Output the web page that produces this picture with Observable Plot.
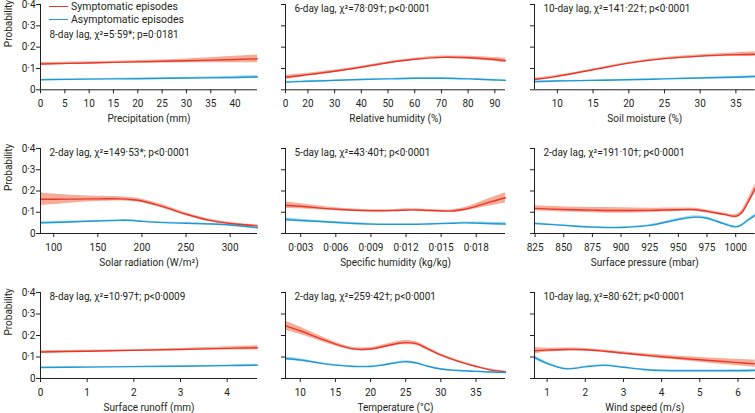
<!DOCTYPE html>
<html>
<head>
<meta charset="utf-8">
<script src="https://cdn.jsdelivr.net/npm/d3@7"></script>
<script src="https://cdn.jsdelivr.net/npm/@observablehq/plot@0.6"></script>
<style>
  body { margin: 0; background: #fff; }
  #chart { position: relative; width: 755px; height: 413px; font-family: Roboto, sans-serif; color: #231f20; }
  #chart svg { position: absolute; overflow: visible; }
  .legend { position: absolute; left: 49px; top: 0px; font-size: 10.5px; line-height: 13px; }
  .legend div { display: flex; align-items: center; height: 13px; }
  .legend span.sw { display: inline-block; width: 19px; height: 0; border-top: 1.6px solid; margin-right: 3px; }
</style>
</head>
<body>
<div id="chart"></div>
<script>
// ---------- data ----------
const seriesNames = ["Symptomatic episodes", "Asymptomatic episodes"];
const yTicks = [0, 0.1, 0.2, 0.3, 0.4];

// Precipitation
const precipX = [0, 10, 20, 30, 40, 44.6];
const precipSym = [0.121, 0.126, 0.131, 0.136, 0.142, 0.145];
const precipSymCI = [0.006, 0.005, 0.006, 0.009, 0.015, 0.018];
const precipAsym = [0.047, 0.050, 0.052, 0.055, 0.058, 0.060];
const precipAsymCI = [0.003, 0.002, 0.003, 0.004, 0.006, 0.007];
const precipTicks = [0, 5, 10, 15, 20, 25, 30, 35, 40];

// Relative humidity
const rhX = [11.6, 20, 30, 40, 50, 60, 70, 80, 90, 94];
const rhSym = [0.059, 0.071, 0.087, 0.106, 0.127, 0.143, 0.152, 0.150, 0.142, 0.137];
const rhSymCI = [0.010, 0.007, 0.006, 0.005, 0.005, 0.005, 0.006, 0.007, 0.009, 0.011];
const rhAsym = [0.036, 0.040, 0.044, 0.048, 0.051, 0.054, 0.054, 0.051, 0.046, 0.044];
const rhAsymCI = [0.004, 0.003, 0.002, 0.002, 0.002, 0.002, 0.002, 0.002, 0.003, 0.004];
const rhTicks = [11.6, 20, 30, 40, 50, 60, 70, 80, 90];
const rhTickLabels = ["0", "20", "30", "40", "50", "60", "70", "80", "90"];

// Soil moisture
const soilX = [6.8, 10, 15, 20, 25, 30, 35, 37.7];
const soilSym = [0.048, 0.063, 0.094, 0.125, 0.146, 0.158, 0.165, 0.167];
const soilSymCI = [0.006, 0.005, 0.004, 0.004, 0.005, 0.006, 0.009, 0.011];
const soilAsym = [0.038, 0.041, 0.044, 0.047, 0.051, 0.055, 0.059, 0.062];
const soilAsymCI = [0.003, 0.002, 0.002, 0.002, 0.002, 0.003, 0.004, 0.005];
const soilTicks = [10, 15, 20, 25, 30, 35];

// Solar radiation
const solarX = [85, 100, 125, 150, 175, 190, 200, 225, 250, 275, 300, 331];
const solarSym = [0.161, 0.161, 0.162, 0.163, 0.163, 0.159, 0.153, 0.125, 0.091, 0.063, 0.047, 0.036];
const solarSymCI = [0.030, 0.025, 0.017, 0.012, 0.010, 0.009, 0.008, 0.008, 0.007, 0.006, 0.005, 0.005];
const solarAsym = [0.050, 0.052, 0.055, 0.059, 0.062, 0.061, 0.057, 0.051, 0.048, 0.045, 0.040, 0.027];
const solarAsymCI = [0.007, 0.006, 0.004, 0.003, 0.003, 0.003, 0.003, 0.003, 0.003, 0.003, 0.003, 0.004];
const solarTicks = [100, 150, 200, 250, 300];

// Specific humidity
const shX = [0.0017, 0.003, 0.006, 0.009, 0.011, 0.0125, 0.014, 0.016, 0.017, 0.018, 0.019, 0.0205];
const shSym = [0.133, 0.128, 0.114, 0.107, 0.108, 0.111, 0.108, 0.106, 0.114, 0.128, 0.145, 0.168];
const shSymCI = [0.015, 0.012, 0.007, 0.005, 0.005, 0.005, 0.005, 0.006, 0.008, 0.012, 0.017, 0.024];
const shAsym = [0.066, 0.061, 0.052, 0.044, 0.043, 0.043, 0.045, 0.048, 0.050, 0.049, 0.047, 0.045];
const shAsymCI = [0.008, 0.006, 0.004, 0.003, 0.003, 0.003, 0.003, 0.003, 0.004, 0.005, 0.006, 0.008];
const shTicks = [0.003, 0.006, 0.009, 0.012, 0.015, 0.018];

// Surface pressure
const presX = [824.5, 850, 875, 900, 925, 950, 965, 975, 990, 1000, 1005, 1010, 1017];
const presSym = [0.118, 0.113, 0.110, 0.108, 0.109, 0.112, 0.112, 0.104, 0.090, 0.081, 0.097, 0.140, 0.213];
const presSymCI = [0.012, 0.012, 0.012, 0.013, 0.010, 0.008, 0.007, 0.007, 0.007, 0.008, 0.010, 0.014, 0.020];
const presAsym = [0.047, 0.038, 0.030, 0.028, 0.038, 0.066, 0.077, 0.072, 0.045, 0.031, 0.040, 0.060, 0.086];
const presAsymCI = [0.004, 0.003, 0.003, 0.003, 0.004, 0.006, 0.007, 0.006, 0.005, 0.004, 0.004, 0.005, 0.007];
const presTicks = [825, 850, 875, 900, 925, 950, 975, 1000];

// Surface runoff
const runoffX = [0, 1, 2, 3, 4, 4.65];
const runoffSym = [0.123, 0.127, 0.131, 0.135, 0.140, 0.143];
const runoffSymCI = [0.006, 0.004, 0.004, 0.005, 0.008, 0.010];
const runoffAsym = [0.051, 0.053, 0.055, 0.057, 0.060, 0.062];
const runoffAsymCI = [0.003, 0.002, 0.002, 0.002, 0.003, 0.004];
const runoffTicks = [0, 1, 2, 3, 4];

// Temperature
const tempX = [7.9, 10, 12.5, 15, 17.5, 20, 22, 24, 25, 26.5, 28, 30, 32.5, 35, 37, 39.2];
const tempSym = [0.245, 0.222, 0.190, 0.160, 0.138, 0.137, 0.150, 0.164, 0.167, 0.162, 0.140, 0.109, 0.080, 0.056, 0.040, 0.031];
const tempSymCI = [0.022, 0.017, 0.012, 0.009, 0.007, 0.007, 0.008, 0.009, 0.010, 0.009, 0.008, 0.006, 0.005, 0.004, 0.004, 0.004];
const tempAsym = [0.093, 0.086, 0.073, 0.062, 0.056, 0.056, 0.064, 0.075, 0.078, 0.072, 0.058, 0.044, 0.037, 0.033, 0.030, 0.028];
const tempAsymCI = [0.008, 0.006, 0.004, 0.003, 0.003, 0.003, 0.003, 0.004, 0.004, 0.004, 0.003, 0.003, 0.002, 0.002, 0.002, 0.003];
const tempTicks = [10, 15, 20, 25, 30, 35];

// Wind speed
const windX = [0.67, 1, 1.5, 2, 2.5, 3, 3.5, 4, 5, 6, 6.45];
const windSym = [0.129, 0.132, 0.135, 0.134, 0.127, 0.118, 0.109, 0.101, 0.087, 0.074, 0.068];
const windSymCI = [0.015, 0.009, 0.007, 0.006, 0.006, 0.006, 0.007, 0.008, 0.011, 0.015, 0.017];
const windAsym = [0.098, 0.070, 0.045, 0.054, 0.061, 0.052, 0.042, 0.037, 0.036, 0.036, 0.037];
const windAsymCI = [0.010, 0.006, 0.003, 0.003, 0.004, 0.003, 0.003, 0.003, 0.004, 0.005, 0.006];
const windTicks = [1, 2, 3, 4, 5, 6];

const xLabels = ["Precipitation (mm)", "Relative humidity (%)", "Soil moisture (%)",
  "Solar radiation (W/m²)", "Specific humidity (kg/kg)", "Surface pressure (mbar)",
  "Surface runoff (mm)", "Temperature (°C)", "Wind speed (m/s)"];
const annotations = ["8-day lag, χ²=5·59*; p=0·0181", "6-day lag, χ²=78·09†; p<0·0001",
  "10-day lag, χ²=141·22†; p<0·0001", "2-day lag, χ²=149·53*; p<0·0001",
  "5-day lag, χ²=43·40†; p<0·0001", "2-day lag, χ²=191·10†; p<0·0001",
  "8-day lag, χ²=10·97†; p<0·0009", "2-day lag, χ²=259·42†; p<0·0001",
  "10-day lag, χ²=80·62†; p<0·0001"];

// ---------- drawing ----------
const RED = "#e8372c", RED_BAND = "#f6ad98";
const BLUE = "#1d9ad3", BLUE_BAND = "#a7d9ef";
const dot = s => s.replace(".", "·");
const fmt = d => d === 0 ? "0" : dot(String(+d.toFixed(6)));

const panels = [
  {X: precipX, s: precipSym, sc: precipSymCI, a: precipAsym, ac: precipAsymCI, ticks: precipTicks},
  {X: rhX, s: rhSym, sc: rhSymCI, a: rhAsym, ac: rhAsymCI, ticks: rhTicks, labels: rhTickLabels},
  {X: soilX, s: soilSym, sc: soilSymCI, a: soilAsym, ac: soilAsymCI, ticks: soilTicks},
  {X: solarX, s: solarSym, sc: solarSymCI, a: solarAsym, ac: solarAsymCI, ticks: solarTicks},
  {X: shX, s: shSym, sc: shSymCI, a: shAsym, ac: shAsymCI, ticks: shTicks},
  {X: presX, s: presSym, sc: presSymCI, a: presAsym, ac: presAsymCI, ticks: presTicks},
  {X: runoffX, s: runoffSym, sc: runoffSymCI, a: runoffAsym, ac: runoffAsymCI, ticks: runoffTicks},
  {X: tempX, s: tempSym, sc: tempSymCI, a: tempAsym, ac: tempAsymCI, ticks: tempTicks},
  {X: windX, s: windSym, sc: windSymCI, a: windAsym, ac: windAsymCI, ticks: windTicks}
];

// layout: frame left / right per column, frame top / bottom per row
const colLeft = [40, 285, 534.3], colRight = [257, 505, 755];
const rowTop = [4, 148.3, 291.7], rowBottom = [89.3, 233.3, 377.7];
const ML = 40, MB = 36, MT = 4;

const chart = document.getElementById("chart");
panels.forEach((p, i) => {
  const col = i % 3, row = Math.floor(i / 3);
  const rows = (Y, C) => p.X.map((x, k) => ({x, y: Y[k], lo: Y[k] - C[k], hi: Y[k] + C[k]}));
  const sym = rows(p.s, p.sc), asym = rows(p.a, p.ac);
  const xDomain = [p.X[0], p.X[p.X.length - 1]];
  const curve = "catmull-rom";
  const marks = [
    Plot.areaY(sym, {x: "x", y1: "lo", y2: "hi", fill: RED_BAND, curve}),
    Plot.areaY(asym, {x: "x", y1: "lo", y2: "hi", fill: BLUE_BAND, curve}),
    Plot.line(sym, {x: "x", y: "y", stroke: RED, strokeWidth: 1.4, curve}),
    Plot.line(asym, {x: "x", y: "y", stroke: BLUE, strokeWidth: 1.4, curve}),
    Plot.ruleX([xDomain[0]], {stroke: "#231f20", strokeWidth: 1}),
    Plot.ruleY([0], {stroke: "#231f20", strokeWidth: 1}),
    Plot.text([annotations[i]], {frameAnchor: "top-left", dx: 9, dy: i === 0 ? 30 : 4.5, lineAnchor: "middle", textAnchor: "start", fontSize: 10}),
    Plot.text([xLabels[i]], {frameAnchor: "bottom", dy: 29, lineAnchor: "middle", fontSize: 10})
  ];
  if (col === 0) marks.push(Plot.text(["Probability"], {frameAnchor: "left", dx: -32, rotate: -90, lineAnchor: "middle", fontSize: 10}));
  const width = colRight[col] - (colLeft[col] - ML);
  const height = (rowBottom[row] - rowTop[row]) + MT + MB;
  const svg = Plot.plot({
    width, height,
    marginLeft: ML, marginRight: 0, marginTop: MT, marginBottom: MB,
    style: {fontFamily: "Roboto, sans-serif", fontSize: "10px", color: "#231f20", background: "transparent", overflow: "visible"},
    x: {domain: xDomain, ticks: p.ticks, tickSize: 4, tickPadding: 6, label: null,
        tickFormat: p.labels ? (d => p.labels[p.ticks.indexOf(d)]) : fmt},
    y: {domain: [0, 0.4], ticks: yTicks, tickSize: 4, tickPadding: 1, label: null,
        tickFormat: col === 0 ? fmt : () => ""},
    marks
  });
  svg.style.left = (colLeft[col] - ML) + "px";
  svg.style.top = (rowTop[row] - MT) + "px";
  chart.appendChild(svg);
});

// legend (inside first panel)
const legend = document.createElement("div");
legend.className = "legend";
[[seriesNames[0], RED], [seriesNames[1], BLUE]].forEach(([name, color]) => {
  const d = document.createElement("div");
  d.innerHTML = `<span class="sw" style="border-color:${color}"></span>${name}`;
  legend.appendChild(d);
});
chart.appendChild(legend);
</script>
</body>
</html>
